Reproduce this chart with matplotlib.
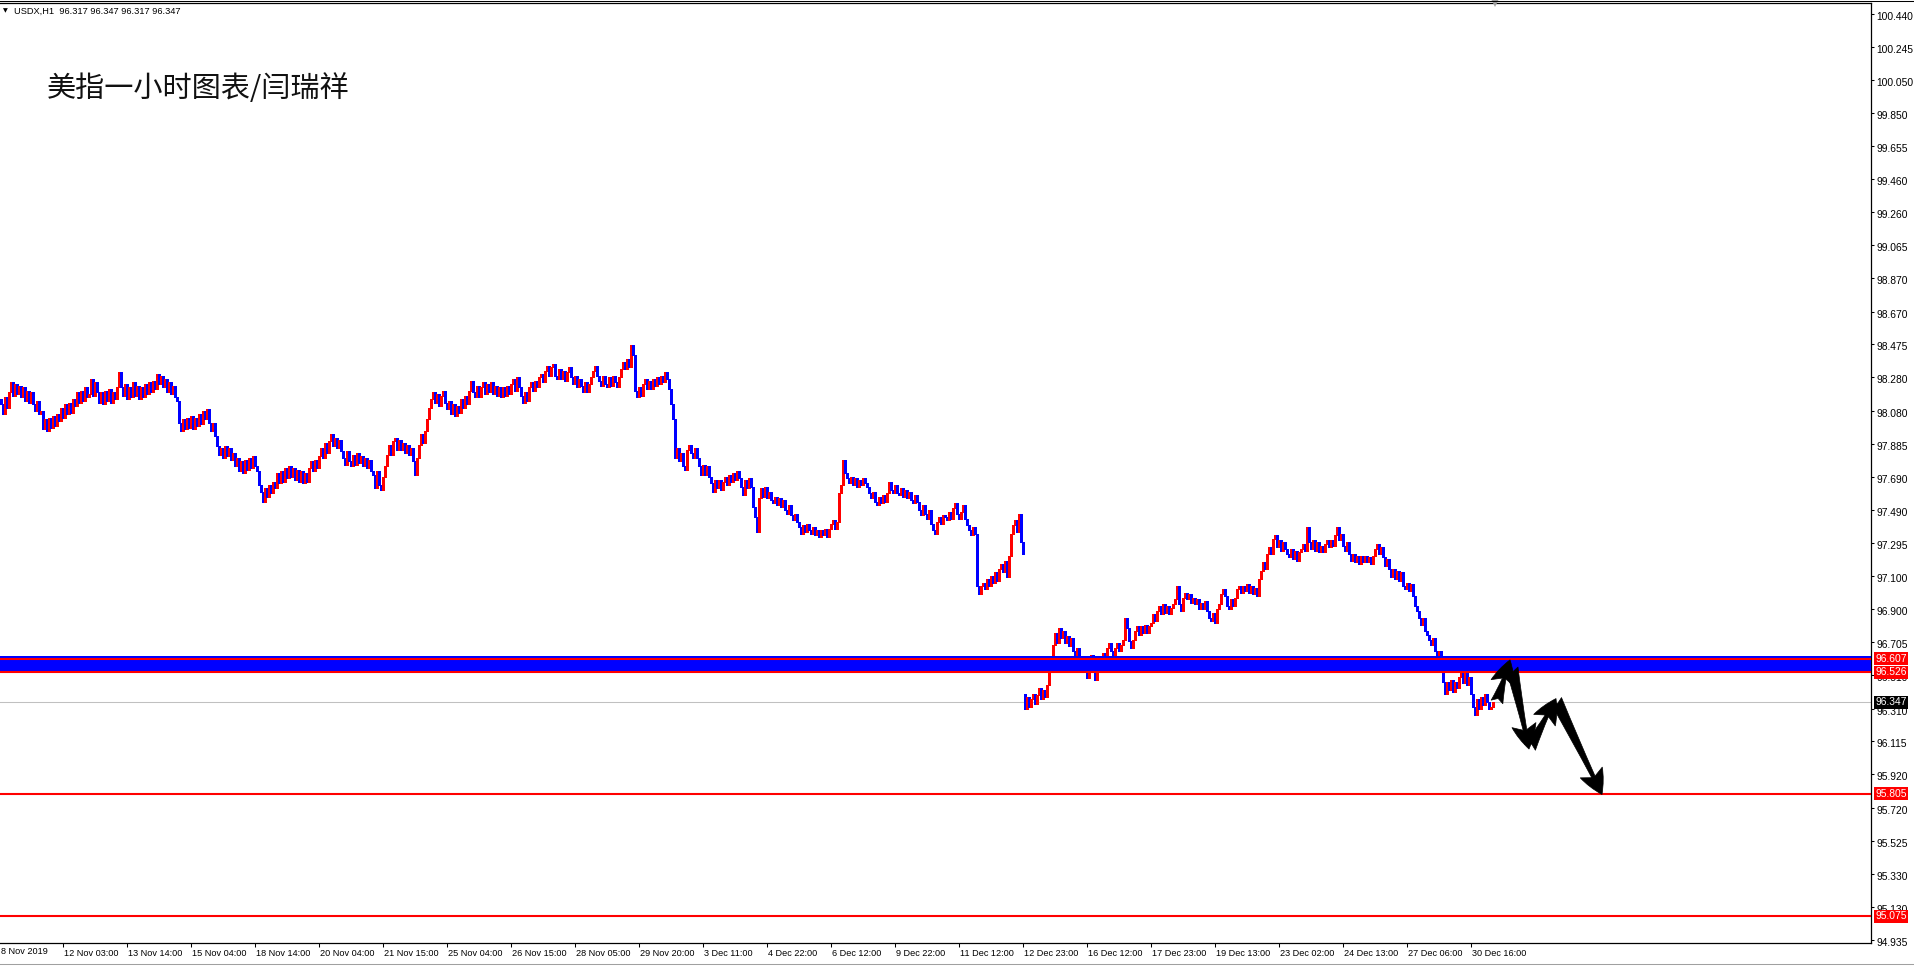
import numpy as np
import matplotlib.pyplot as plt
from matplotlib import transforms
from matplotlib.lines import Line2D

# USDX H1 closes, one per hourly bar (8 Nov - 31 Dec 2019); bar open = previous close
closes = [
    98.12, 98.06, 98.16, 98.10, 98.19, 98.25, 98.17, 98.24, 98.18, 98.23,  # 0
    98.16, 98.22, 98.14, 98.20, 98.13, 98.19, 98.12, 98.08, 98.14, 98.06,
    98.08, 97.97, 98.03, 97.96, 98.04, 97.98, 98.05, 97.99, 98.06, 98.02,
    98.10, 98.04, 98.12, 98.06, 98.13, 98.07, 98.15, 98.11, 98.19, 98.13,
    98.20, 98.14, 98.22, 98.16, 98.18, 98.27, 98.17, 98.25, 98.19, 98.13,
    98.19, 98.12, 98.20, 98.14, 98.21, 98.13, 98.19, 98.15, 98.22, 98.31,  # 50
    98.22, 98.17, 98.24, 98.15, 98.22, 98.16, 98.25, 98.17, 98.23, 98.15,
    98.22, 98.16, 98.24, 98.18, 98.25, 98.19, 98.26, 98.21, 98.30, 98.24,
    98.29, 98.22, 98.27, 98.19, 98.25, 98.18, 98.23, 98.16, 98.14, 98.01,
    97.96, 98.03, 97.97, 98.04, 97.98, 98.05, 97.97, 98.04, 97.99, 98.06,
    98.00, 98.08, 98.03, 98.09, 98.01, 97.96, 98.01, 97.93, 97.87, 97.82,  # 100
    97.86, 97.80, 97.87, 97.81, 97.86, 97.79, 97.83, 97.75, 97.80, 97.72,
    97.78, 97.71, 97.79, 97.73, 97.80, 97.74, 97.81, 97.75, 97.72, 97.64,
    97.60, 97.54, 97.62, 97.57, 97.64, 97.59, 97.66, 97.62, 97.71, 97.65,
    97.72, 97.66, 97.74, 97.68, 97.75, 97.69, 97.74, 97.67, 97.73, 97.66,
    97.72, 97.65, 97.71, 97.66, 97.74, 97.78, 97.72, 97.79, 97.74, 97.81,  # 150
    97.86, 97.80, 97.89, 97.83, 97.90, 97.94, 97.87, 97.92, 97.86, 97.91,
    97.84, 97.80, 97.76, 97.84, 97.78, 97.75, 97.82, 97.76, 97.83, 97.77,
    97.81, 97.75, 97.80, 97.74, 97.79, 97.72, 97.70, 97.62, 97.72, 97.64,
    97.61, 97.69, 97.75, 97.82, 97.88, 97.82, 97.90, 97.92, 97.85, 97.91,
    97.85, 97.89, 97.83, 97.88, 97.82, 97.86, 97.78, 97.70, 97.80, 97.88,  # 200
    97.94, 97.89, 97.96, 98.03, 98.10, 98.15, 98.19, 98.13, 98.18, 98.11,
    98.17, 98.20, 98.13, 98.09, 98.14, 98.06, 98.12, 98.05, 98.11, 98.07,
    98.15, 98.10, 98.17, 98.12, 98.20, 98.26, 98.19, 98.16, 98.23, 98.16,
    98.22, 98.25, 98.18, 98.24, 98.19, 98.25, 98.18, 98.23, 98.17, 98.22,
    98.16, 98.22, 98.17, 98.23, 98.18, 98.24, 98.27, 98.20, 98.28, 98.22,  # 250
    98.17, 98.13, 98.19, 98.14, 98.22, 98.25, 98.20, 98.26, 98.22, 98.28,
    98.30, 98.25, 98.32, 98.35, 98.29, 98.34, 98.36, 98.29, 98.27, 98.33,
    98.27, 98.32, 98.26, 98.31, 98.34, 98.28, 98.24, 98.29, 98.22, 98.27,
    98.23, 98.19, 98.25, 98.19, 98.24, 98.28, 98.32, 98.35, 98.29, 98.26,
    98.23, 98.29, 98.24, 98.22, 98.28, 98.23, 98.29, 98.25, 98.22, 98.28,  # 300
    98.33, 98.37, 98.33, 98.39, 98.34, 98.47, 98.41, 98.20, 98.16, 98.22,
    98.17, 98.24, 98.27, 98.21, 98.26, 98.21, 98.27, 98.23, 98.28, 98.24,
    98.29, 98.25, 98.31, 98.27, 98.21, 98.12, 98.03, 97.80, 97.86, 97.78,
    97.83, 97.75, 97.73, 97.85, 97.88, 97.83, 97.80, 97.86, 97.80, 97.75,
    97.70, 97.76, 97.70, 97.75, 97.69, 97.65, 97.60, 97.67, 97.62, 97.67,  # 350
    97.61, 97.66, 97.69, 97.64, 97.70, 97.66, 97.71, 97.67, 97.72, 97.68,
    97.63, 97.58, 97.67, 97.62, 97.68, 97.63, 97.51, 97.45, 97.36, 97.56,
    97.62, 97.57, 97.63, 97.56, 97.60, 97.55, 97.53, 97.57, 97.52, 97.56,
    97.51, 97.55, 97.49, 97.47, 97.52, 97.46, 97.43, 97.47, 97.42, 97.39,
    97.35, 97.40, 97.36, 97.41, 97.37, 97.35, 97.39, 97.34, 97.37, 97.33,  # 400
    97.37, 97.34, 97.38, 97.33, 97.38, 97.41, 97.43, 97.38, 97.42, 97.59,
    97.64, 97.79, 97.71, 97.68, 97.65, 97.69, 97.64, 97.68, 97.63, 97.67,
    97.64, 97.68, 97.65, 97.63, 97.59, 97.56, 97.60, 97.54, 97.52, 97.57,
    97.53, 97.58, 97.54, 97.59, 97.66, 97.61, 97.59, 97.64, 97.59, 97.58,
    97.62, 97.57, 97.61, 97.56, 97.60, 97.55, 97.53, 97.58, 97.54, 97.49,  # 450
    97.46, 97.52, 97.47, 97.44, 97.49, 97.41, 97.37, 97.35, 97.42, 97.45,
    97.41, 97.46, 97.45, 97.43, 97.48, 97.44, 97.50, 97.53, 97.47, 97.44,
    97.48, 97.52, 97.44, 97.40, 97.37, 97.34, 97.39, 97.35, 97.04, 96.99,
    97.04, 97.06, 97.02, 97.08, 97.04, 97.10, 97.06, 97.12, 97.07, 97.14,
    97.17, 97.12, 97.19, 97.09, 97.22, 97.35, 97.40, 97.43, 97.36, 97.47,  # 500
    97.30, 97.23, 96.31, 96.38, 96.32, 96.37, 96.40, 96.34, 96.39, 96.43,
    96.37, 96.42, 96.38, 96.45, 96.53, 96.61, 96.69, 96.76, 96.70, 96.79,
    96.73, 96.77, 96.70, 96.74, 96.68, 96.73, 96.65, 96.62, 96.67, 96.61,
    96.57, 96.62, 96.54, 96.49, 96.59, 96.63, 96.53, 96.48, 96.58, 96.62,
    96.57, 96.64, 96.59, 96.67, 96.70, 96.65, 96.62, 96.67, 96.70, 96.65,  # 550
    96.69, 96.72, 96.85, 96.79, 96.71, 96.67, 96.72, 96.77, 96.80, 96.75,
    96.80, 96.76, 96.81, 96.76, 96.80, 96.82, 96.87, 96.83, 96.89, 96.92,
    96.87, 96.93, 96.88, 96.92, 96.87, 96.91, 96.93, 96.96, 97.04, 96.93,
    96.89, 96.97, 97.00, 96.96, 96.99, 96.94, 96.97, 96.93, 96.96, 96.90,
    96.94, 96.90, 96.95, 96.89, 96.85, 96.83, 96.88, 96.82, 96.90, 96.93,  # 600
    96.99, 97.02, 96.98, 96.92, 96.90, 96.96, 96.92, 96.97, 97.02, 97.04,
    97.00, 97.04, 97.01, 97.05, 97.00, 97.04, 96.99, 97.03, 96.98, 97.08,
    97.13, 97.18, 97.14, 97.23, 97.27, 97.23, 97.32, 97.34, 97.27, 97.31,
    97.25, 97.30, 97.26, 97.23, 97.21, 97.26, 97.20, 97.25, 97.19, 97.24,
    97.26, 97.29, 97.25, 97.39, 97.30, 97.26, 97.31, 97.25, 97.30, 97.24,  # 650
    97.28, 97.24, 97.29, 97.31, 97.27, 97.31, 97.28, 97.34, 97.39, 97.31,
    97.35, 97.28, 97.25, 97.30, 97.23, 97.19, 97.23, 97.18, 97.22, 97.17,
    97.22, 97.18, 97.22, 97.18, 97.21, 97.17, 97.22, 97.26, 97.29, 97.23,
    97.27, 97.21, 97.16, 97.20, 97.14, 97.09, 97.14, 97.08, 97.13, 97.07,
    97.12, 97.04, 97.02, 97.06, 97.01, 97.05, 96.98, 96.92, 96.89, 96.85,  # 700
    96.81, 96.85, 96.77, 96.75, 96.72, 96.69, 96.73, 96.65, 96.61, 96.65,
    96.55, 96.47, 96.40, 96.47, 96.42, 96.48, 96.41, 96.47, 96.43, 96.50,
    96.53, 96.46, 96.52, 96.45, 96.50, 96.40, 96.32, 96.27, 96.37, 96.31,
    96.38, 96.33, 96.40, 96.35, 96.31, 96.32, 96.35,                       # 740
]
first_open = 98.15
gap_bars = [512]          # 11/12 Dec price gap
gap_opens = [96.40]

time_labels = ['8 Nov 2019', '12 Nov 03:00', '13 Nov 14:00', '15 Nov 04:00', '18 Nov 14:00',
               '20 Nov 04:00', '21 Nov 15:00', '25 Nov 04:00', '26 Nov 15:00', '28 Nov 05:00',
               '29 Nov 20:00', '3 Dec 11:00', '4 Dec 22:00', '6 Dec 12:00', '9 Dec 22:00',
               '11 Dec 12:00', '12 Dec 23:00', '16 Dec 12:00', '17 Dec 23:00', '19 Dec 13:00',
               '23 Dec 02:00', '24 Dec 13:00', '27 Dec 06:00', '30 Dec 16:00']
first_label_bar = -1
label_step = 32

price_ticks = [100.440, 100.245, 100.050, 99.850, 99.655, 99.460, 99.260, 99.065, 98.870,
               98.670, 98.475, 98.280, 98.080, 97.885, 97.690, 97.490, 97.295, 97.100,
               96.900, 96.705, 96.510, 96.310, 96.115, 95.920, 95.720, 95.525, 95.330,
               95.130, 94.935]

band = (96.522, 96.625)
red_levels = [96.607, 96.526, 95.805, 95.075]
bid = 96.347
header = 'USDX,H1  96.317 96.347 96.317 96.347'
title = '美指一小时图表/闫瑞祥'

# hand drawn forecast zigzag (bar, price)
arrow_tails = [(748.0, 96.35), (755.5, 96.55), (764.5, 96.08), (777.5, 96.36)]
arrow_tips = [(754.5, 96.60), (764.0, 96.07), (777.5, 96.37), (800.5, 95.80)]

W, H = 1914, 967
fig = plt.figure(figsize=(W / 100, H / 100), dpi=100)
ax = fig.add_axes([0, 24 / H, 1871 / W, 940 / H])
ax.set_xlim(-0.5, 935)
ax.set_ylim(94.917, 100.505)

c = np.array(closes)
o = np.r_[first_open, c[:-1]]
for b, v in zip(gap_bars, gap_opens):
    o[b] = v
x = np.arange(len(c))
cols = np.where(c > o, '#ff0000', np.where(c < o, '#0000ff', '#000000'))
ax.vlines(x, np.minimum(o, c), np.maximum(o, c), colors=cols, linewidth=0.75,
          antialiased=False, zorder=2)

ax.axhline(bid, color='#c0c0c0', lw=0.75, zorder=1)
ax.axhspan(*band, color='#0000ff', lw=0, zorder=3)
for lv in red_levels:
    ax.axhline(lv, color='#ff0000', lw=1.5, zorder=4)

for (x0, y0), (x1, y1) in zip(arrow_tails, arrow_tips):
    ax.annotate('', xy=(x1, y1), xytext=(x0, y0), zorder=5,
                arrowprops=dict(arrowstyle='fancy,head_length=0.8,head_width=0.8,tail_width=0.4',
                                fc='black', ec='black', lw=0.5, mutation_scale=22,
                                shrinkA=0, shrinkB=0))

# chart shift marker
ax.plot([len(c)], [ax.get_ylim()[1]], marker='v', color='#a0a0a0', ms=6,
        clip_on=False, zorder=6, markeredgewidth=0)

# axes styling
ax.spines['left'].set_visible(False)
for s in ['top', 'right', 'bottom']:
    ax.spines[s].set_linewidth(0.9)
ax.yaxis.tick_right()
ax.set_yticks(price_ticks)
ax.set_yticklabels(['%.3f' % t for t in price_ticks], family='Liberation Sans', fontsize=7.4)
ax.tick_params(axis='y', length=2.3, width=0.75, pad=1.5)
down = transforms.ScaledTranslation(0, -2 / 100, fig.dpi_scale_trans)
for lab in ax.get_yticklabels():
    lab.set_transform(lab.get_transform() + down)

pos = [first_label_bar + label_step * i for i in range(len(time_labels))]
ax.set_xticks(pos[1:])
ax.set_xticklabels(time_labels[1:], family='Liberation Sans', fontsize=6.6, ha='left')
ax.tick_params(axis='x', length=2.6, width=0.75, pad=2)
shift = transforms.ScaledTranslation(1.5 / 100, 0, fig.dpi_scale_trans)
for lab in ax.get_xticklabels():
    lab.set_transform(lab.get_transform() + shift)
# first label sits left of the view, MT4 still prints it
bx = transforms.blended_transform_factory(ax.transData, ax.transAxes)
ax.text(pos[0], -(4.5 / 940), time_labels[0], transform=bx + shift,
        ha='left', va='top', family='Liberation Sans', fontsize=6.6, clip_on=False)

# price boxes at the right edge
bt = transforms.blended_transform_factory(ax.transAxes, ax.transData)
for lv in red_levels:
    ax.text(1.0022, lv, '%.3f' % lv, transform=bt, ha='left', va='center', color='white',
            family='Liberation Sans', fontsize=7.4, zorder=10,
            bbox=dict(boxstyle='square,pad=0.15', fc='#ff0000', ec='none'))
ax.text(1.0022, bid, '%.3f' % bid, transform=bt, ha='left', va='center', color='white',
        family='Liberation Sans', fontsize=7.4, zorder=10,
        bbox=dict(boxstyle='square,pad=0.15', fc='#000000', ec='none'))

# window decorations
fig.add_artist(Line2D([0, 1], [1 - 0.6 / H] * 2, color='#000000', lw=0.75))
fig.add_artist(Line2D([0, 1], [3.5 / H] * 2, color='#a0a0a0', lw=0.75))
fig.text(3 / W, 1 - 11 / H, '▼', fontsize=4.5, va='center', ha='left', family='DejaVu Sans')
fig.text(14 / W, 1 - 11 / H, header, fontsize=6.7, va='center', ha='left', family='Liberation Sans')
fig.text(47 / W, 1 - 89 / H, title, fontsize=21, va='center', ha='left',
         family=['Noto Sans CJK SC', 'DejaVu Sans'], color='#111111')

fig.savefig('out.png', dpi=100, facecolor='white')
